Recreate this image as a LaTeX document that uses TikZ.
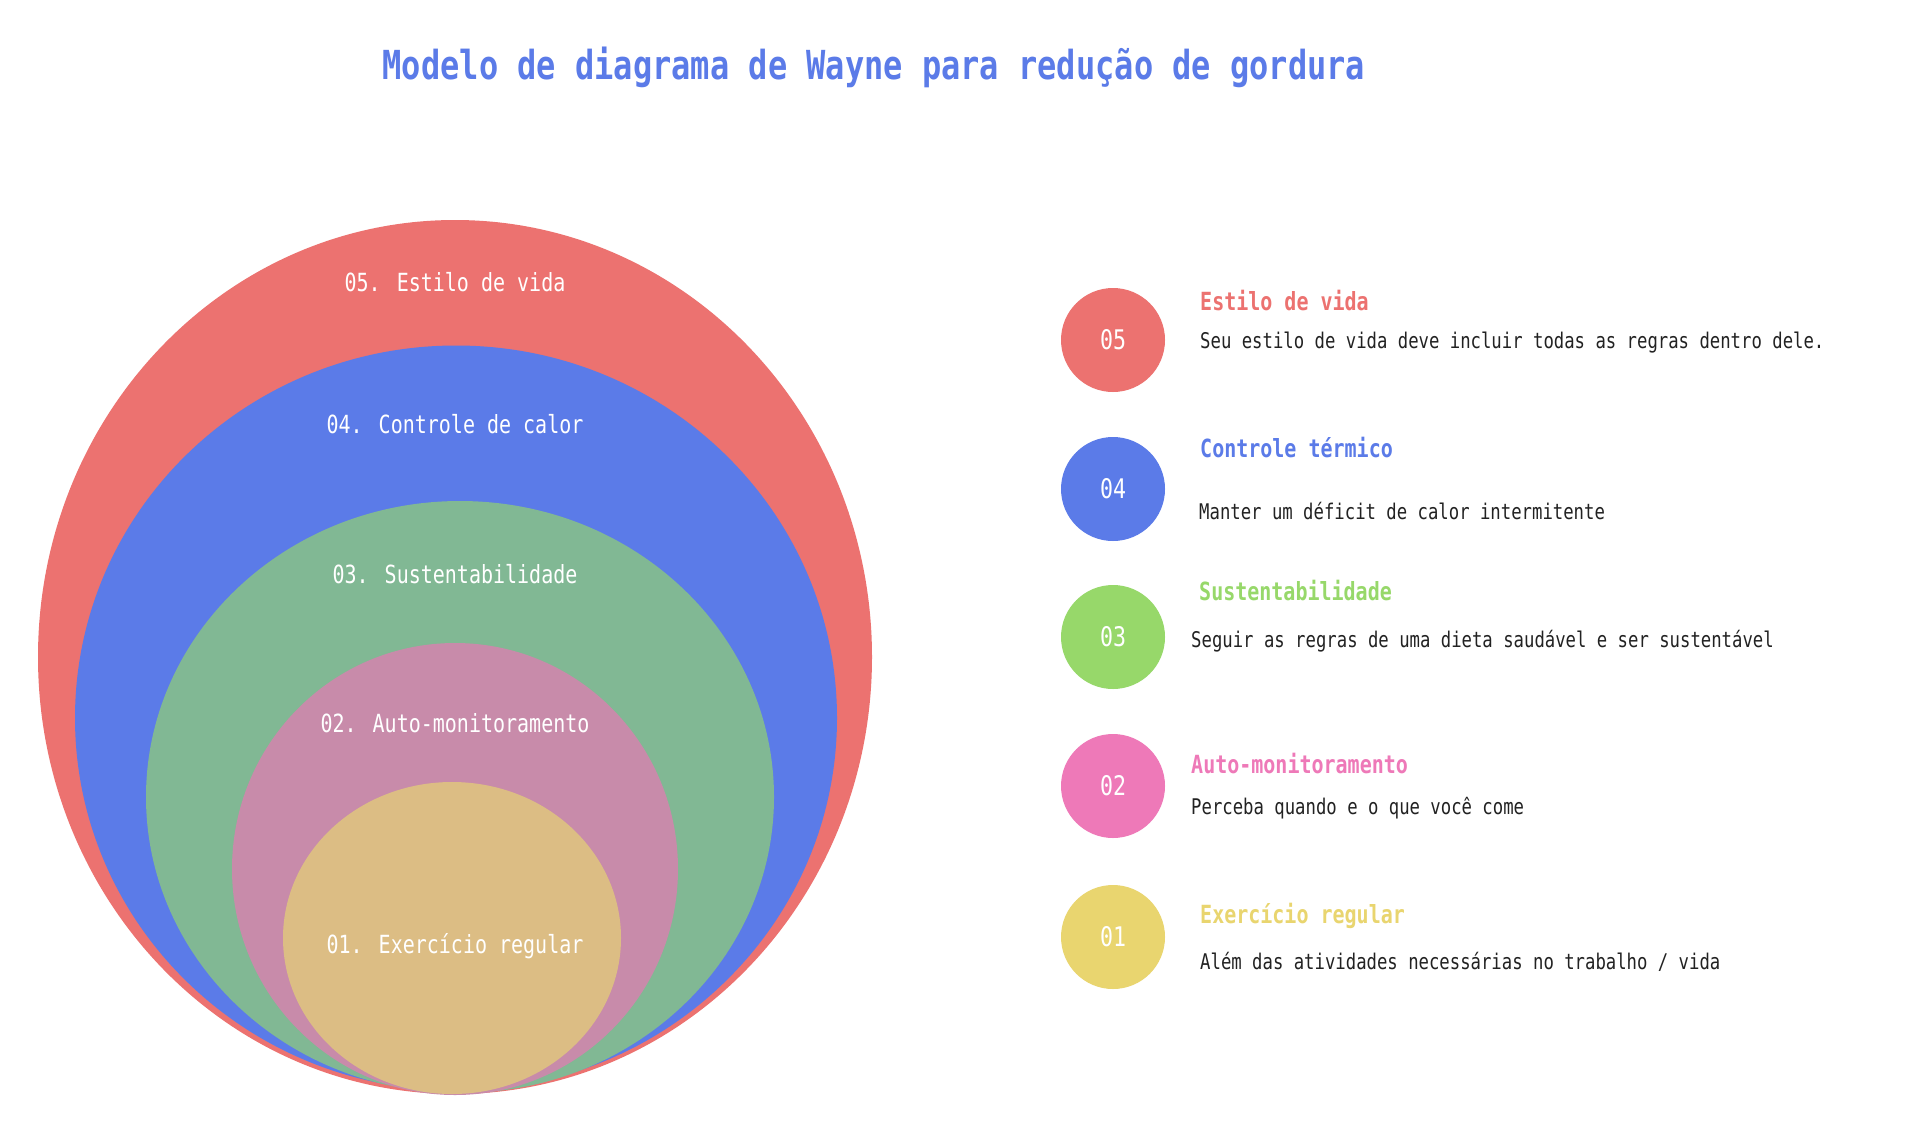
\documentclass[tikz,border=0pt]{standalone}
\usepackage{fontspec}
\newfontfamily\mono[FakeStretch=0.8]{DejaVu Sans Mono}
\usetikzlibrary{shapes.geometric}
\definecolor{cRed}{HTML}{EC7270}
\definecolor{cBlue}{HTML}{5B7BE8}
\definecolor{cGreen}{HTML}{81B894}
\definecolor{cPink}{HTML}{C88BAA}
\definecolor{cYellow}{HTML}{DCBD84}
\definecolor{dGreen}{HTML}{97D86A}
\definecolor{dPink}{HTML}{EE79B8}
\definecolor{dYellow}{HTML}{E9D56F}
\definecolor{txt}{HTML}{222222}
\tikzset{
  ring/.style={ellipse, inner sep=0pt, draw=none},
  ringlabel/.style={text=white, font=\mono\fontsize{25}{30}\selectfont, inner sep=0pt},
  badge/.style={circle, inner sep=0pt, minimum size=104pt, text=white, font=\mono\fontsize{27}{32}\selectfont},
  head/.style={anchor=west, inner sep=0pt, font=\mono\bfseries\fontsize{25}{30}\selectfont},
  desc/.style={anchor=west, inner sep=0pt, text=txt, font=\mono\fontsize{21.6}{26}\selectfont},
}
\begin{document}
\begin{tikzpicture}[x=1pt,y=-1pt]
\fill[white] (0,0) rectangle (1905,1130);
\useasboundingbox (0,0) rectangle (1905,1130);
% title
\node[inner sep=0pt, text=cBlue, font=\mono\bfseries\fontsize{40}{48}\selectfont] (title) at (874,67) {Modelo de diagrama de Wayne para redução de gordura};
% nested ellipses
\node[ring, fill=cRed, minimum width=834pt, minimum height=874pt] (e5) at (455,657) {};
\node[ring, fill=cBlue, minimum width=762pt, minimum height=745pt] (e4) at (456,718) {};
\node[ring, fill=cGreen, minimum width=628pt, minimum height=592pt] (e3) at (460,797) {};
\node[ring, fill=cPink, minimum width=446pt, minimum height=452pt] (e2) at (455,869) {};
\node[ring, fill=cYellow, minimum width=338pt, minimum height=312pt] (e1) at (452,938) {};
\node[ringlabel] (l5) at (455,282) {05. Estilo de vida};
\node[ringlabel] (l4) at (455,424) {04. Controle de calor};
\node[ringlabel] (l3) at (455,574) {03. Sustentabilidade};
\node[ringlabel] (l2) at (455,723) {02. Auto-monitoramento};
\node[ringlabel] (l1) at (455,946) {01. Exercício regular};
% legend
\node[badge, fill=cRed] (b5) at (1113,340) {05};
\node[badge, fill=cBlue] (b4) at (1113,489) {04};
\node[badge, fill=dGreen] (b3) at (1113,637) {03};
\node[badge, fill=dPink] (b2) at (1113,786) {02};
\node[badge, fill=dYellow] (b1) at (1113,937) {01};
\node[head, text=cRed] (h5) at (1200,301) {Estilo de vida};
\node[desc] (d5) at (1200,343) {Seu estilo de vida deve incluir todas as regras dentro dele.};
\node[head, text=cBlue] (h4) at (1200,448) {Controle térmico};
\node[desc] (d4) at (1199,511) {Manter um déficit de calor intermitente};
\node[head, text=dGreen] (h3) at (1199,591) {Sustentabilidade};
\node[desc] (d3) at (1191,641) {Seguir as regras de uma dieta saudável e ser sustentável};
\node[head, text=dPink] (h2) at (1191,764) {Auto-monitoramento};
\node[desc] (d2) at (1191,808) {Perceba quando e o que você come};
\node[head, text=dYellow] (h1) at (1200,916) {Exercício regular};
\node[desc] (d1) at (1200,962) {Além das atividades necessárias no trabalho / vida};
\end{tikzpicture}
\end{document}
